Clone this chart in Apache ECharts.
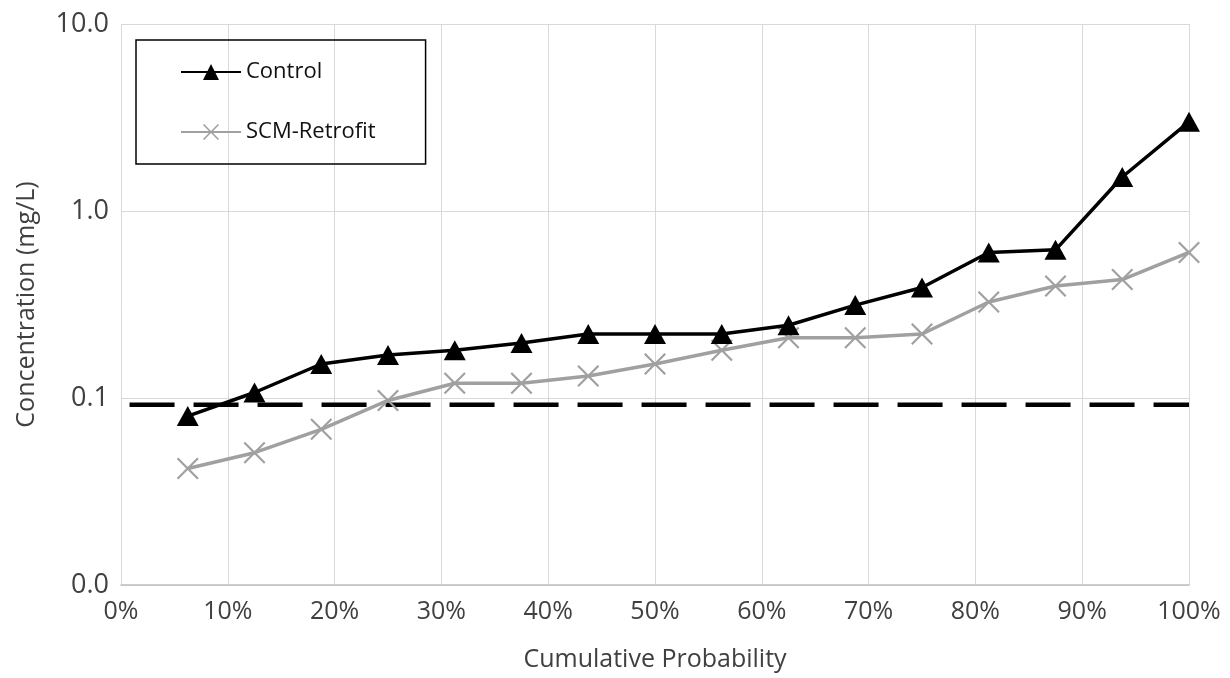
<!DOCTYPE html>
<html><head><meta charset="utf-8">
<script src="https://cdn.jsdelivr.net/npm/echarts@6/dist/echarts.min.js"></script>
<style>html,body{margin:0;padding:0;background:#fff}#c{width:1230px;height:678px}</style>
</head><body><div id="c"></div>
<script>
const probabilities = [6.25,12.5,18.75,25,31.25,37.5,43.75,50,56.25,62.5,68.75,75,81.25,87.5,93.75,100];
const controlValues = [0.08,0.107,0.152,0.17,0.18,0.197,0.22,0.22,0.22,0.245,0.314,0.39,0.60,0.62,1.52,3.0];
const retrofitValues = [0.042,0.051,0.068,0.097,0.12,0.12,0.131,0.152,0.18,0.21,0.21,0.22,0.326,0.397,0.43,0.6];
const thresholdX = [0.8,100];
const thresholdValue = 0.092;
const seriesNames = ['Control','SCM-Retrofit'];

const FONT = "'Open Sans',sans-serif";
const crossPath = 'path://M0,0.7 L0.7,0 L5,4.3 L9.3,0 L10,0.7 L5.7,5 L10,9.3 L9.3,10 L5,5.7 L0.7,10 L0,9.3 L4.3,5 Z';
const chart = echarts.init(document.getElementById('c'));
chart.setOption({
  animation:false,
  backgroundColor:'#fff',
  grid:{left:121,right:41,top:24,bottom:93,containLabel:false},
  legend:{
    data:seriesNames,
    orient:'vertical',
    left:136, top:40,
    itemWidth:60, itemHeight:20, itemGap:38,
    padding:[21,50,21,44],
    borderColor:'#000', borderWidth:1.5,
    textStyle:{fontFamily:FONT,fontSize:22,color:'#111'}
  },
  xAxis:{
    type:'value',min:0,max:100,interval:10,
    name:'Cumulative Probability',nameLocation:'middle',nameGap:62,
    nameTextStyle:{fontFamily:FONT,fontSize:25,color:'#404040'},
    axisLine:{show:true,lineStyle:{color:'#bfbfbf',width:1.5}},
    axisTick:{show:false},
    axisLabel:{formatter:'{value}%',fontFamily:FONT,fontSize:25,color:'#404040',margin:14},
    splitLine:{show:true,lineStyle:{color:'#d9d9d9',width:1}}
  },
  yAxis:{
    type:'log',logBase:10,min:0.01,max:10,
    name:'Concentration (mg/L)',nameLocation:'middle',nameGap:82,
    nameTextStyle:{fontFamily:FONT,fontSize:25,color:'#404040'},
    axisLine:{show:false},axisTick:{show:false},
    axisLabel:{formatter:v=>Number(v).toFixed(1),fontFamily:FONT,fontSize:27,color:'#404040',margin:12},
    splitLine:{show:true,lineStyle:{color:'#d9d9d9',width:1}}
  },
  series:[
    {name:seriesNames[0],type:'line',data:probabilities.map((p,i)=>[p,controlValues[i]]),
     symbol:'triangle',symbolSize:[22,20],z:4,
     lineStyle:{color:'#000',width:3.5},itemStyle:{color:'#000'}},
    {name:seriesNames[1],type:'line',data:probabilities.map((p,i)=>[p,retrofitValues[i]]),
     symbol:crossPath,symbolSize:22,z:3,
     lineStyle:{color:'#a0a0a0',width:3.5},itemStyle:{color:'#a0a0a0'}},
    {name:'threshold',type:'line',data:thresholdX.map(x=>[x,thresholdValue]),
     symbol:'none',z:2,silent:true,
     lineStyle:{color:'#000',width:4.5,type:[45,19]}}
  ]
});
</script></body></html>
